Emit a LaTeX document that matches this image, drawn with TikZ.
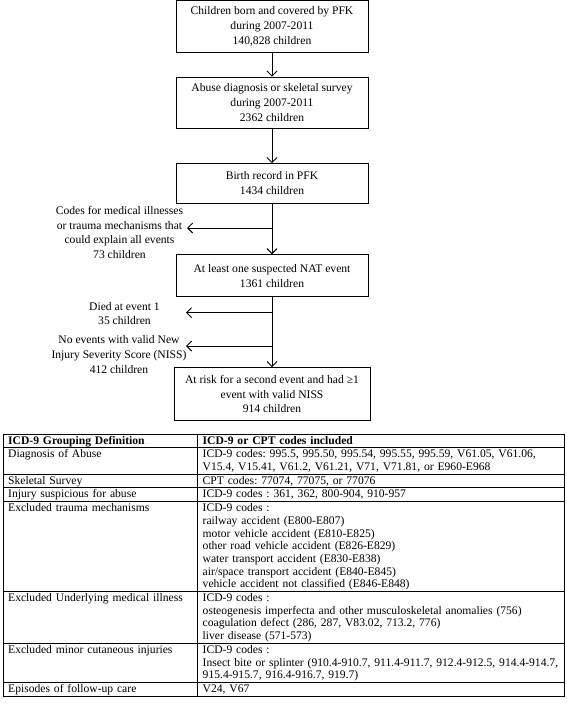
\documentclass[tikz,border=0pt]{standalone}
\usepackage{fontspec}
\setmainfont{Liberation Serif}
\usetikzlibrary{arrows.meta}
\frenchspacing
\begin{document}
\begin{tikzpicture}[x=1pt,y=-1pt,
  flowbox/.style={draw, line width=0.9pt, minimum width=192pt, align=center, inner sep=0pt, font=\fontsize{11.6}{14.8}\selectfont},
  note/.style={align=center, inner sep=0pt, font=\fontsize{11.6}{14.8}\selectfont},
  conn/.style={line width=0.9pt, -{Straight Barb[length=5pt,width=10pt,line width=0.9pt]}},
  lcell/.style={anchor=north west, inner sep=0pt, align=left, text width=185pt, font=\fontsize{11.6}{12.7}\selectfont},
  rcell/.style={anchor=north west, inner sep=0pt, align=left, text width=360pt, font=\fontsize{11.6}{12.7}\selectfont},
  grid/.style={line width=0.8pt}
]
\useasboundingbox (0,0) rectangle (567,707);

% flowchart boxes
\node[flowbox, minimum height=51.5pt] (b1) at (272,26.5) {Children born and covered by PFK\\during 2007-2011\\140,828 children};
\node[flowbox, minimum height=51pt] (b2) at (272,102.5) {Abuse diagnosis or skeletal survey\\during 2007-2011\\2362 children};
\node[flowbox, minimum height=39.5pt] (b3) at (272,183.3) {Birth record in PFK\\1434 children};
\node[flowbox, minimum height=42pt] (b4) at (272,275.7) {At least one suspected NAT event\\1361 children};
\node[flowbox, minimum width=196pt, minimum height=53pt] (b5) at (272,394) {At risk for a second event and had ≥1\\event with valid NISS\\914 children};

% side notes
\node[note] (n1) at (119.5,232.5) {Codes for medical illnesses\\or trauma mechanisms that\\could explain all events\\73 children};
\node[note] (n2) at (124.5,313.5) {Died at event 1\\35 children};
\node[note] (n3) at (119,354.7) {No events with valid New\\Injury Severity Score (NISS)\\412 children};

\coordinate (j1) at (272,228);   \coordinate (t1) at (187,228);
\coordinate (j2) at (272,312.7); \coordinate (t2) at (186,312.7);
\coordinate (j3) at (272,346);   \coordinate (t3) at (186,346);

\draw[conn] (b1) -- (b2);
\draw[conn] (b2) -- (b3);
\draw[conn] (b3) -- (b4);
\draw[conn] (b4) -- (b5);
\draw[conn] (j1) -- (t1);
\draw[conn] (j2) -- (t2);
\draw[conn] (j3) -- (t3);

% table frame
\coordinate (tl) at (3,434);
\coordinate (br) at (564.5,696);
\draw[grid] (tl) rectangle (br);
\draw[grid] (197,434) -- (197,696);
\foreach \yy in {447.7,474.1,487.8,501.5,591.4,643.2,682.3}
  \draw[grid] (3,\yy) -- (564.5,\yy);

% table cells
\node[lcell] (h1) at (8,435.1) {\strut\textbf{ICD-9 Grouping Definition}};
\node[rcell] (h2) at (202.5,435.1) {\strut\textbf{ICD-9 or CPT codes included}};

\node[lcell] (l1) at (8,448.8) {\strut Diagnosis of Abuse};
\node[rcell] (r1) at (202.5,448.8) {\strut ICD-9 codes: 995.5, 995.50, 995.54, 995.55, 995.59, V61.05, V61.06,\\V15.4, V15.41, V61.2, V61.21, V71, V71.81, or E960-E968};

\node[lcell] (l2) at (8,475.2) {\strut Skeletal Survey};
\node[rcell] (r2) at (202.5,475.2) {\strut CPT codes: 77074, 77075, or 77076};

\node[lcell] (l3) at (8,488.9) {\strut Injury suspicious for abuse};
\node[rcell] (r3) at (202.5,488.9) {\strut ICD-9 codes : 361, 362, 800-904, 910-957};

\node[lcell] (l4) at (8,502.6) {\strut Excluded trauma mechanisms};
\node[rcell] (r4) at (202.5,502.6) {\strut ICD-9 codes :\\railway accident (E800-E807)\\motor vehicle accident (E810-E825)\\other road vehicle accident (E826-E829)\\water transport accident (E830-E838)\\air/space transport accident (E840-E845)\\vehicle accident not classified (E846-E848)};

\node[lcell] (l5) at (8,592.5) {\strut Excluded Underlying medical illness};
\node[rcell] (r5) at (202.5,592.5) {\strut ICD-9 codes :\\osteogenesis imperfecta and other musculoskeletal anomalies (756)\\coagulation defect (286, 287, V83.02, 713.2, 776)\\liver disease (571-573)};

\node[lcell] (l6) at (8,644.3) {\strut Excluded minor cutaneous injuries};
\node[rcell] (r6) at (202.5,644.3) {\strut ICD-9 codes :\\Insect bite or splinter (910.4-910.7, 911.4-911.7, 912.4-912.5, 914.4-914.7,\\915.4-915.7, 916.4-916.7, 919.7)};

\node[lcell] (l7) at (8,683.4) {\strut Episodes of follow-up care};
\node[rcell] (r7) at (202.5,683.4) {\strut V24, V67};
\end{tikzpicture}
\end{document}
